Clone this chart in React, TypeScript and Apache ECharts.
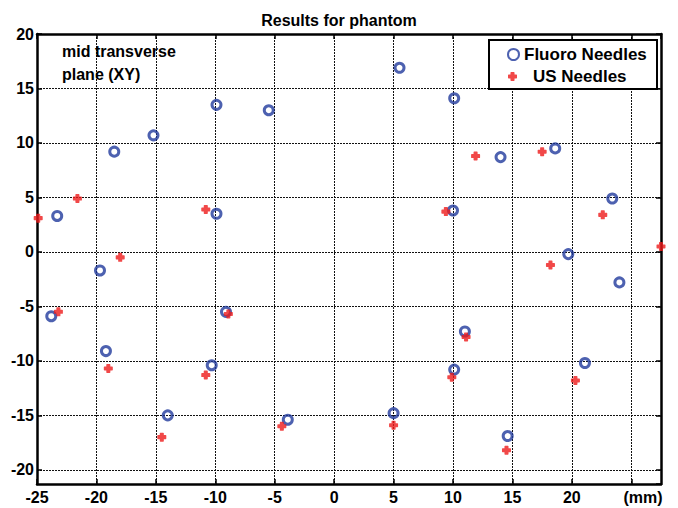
import React, { useEffect, useRef } from "react";
import * as echarts from "echarts";

const fluoroX = [-23.8, -23.3, -19.7, -19.2, -18.5, -15.2, -14.0, -9.9, -9.9, -10.3, -9.1, -5.5, -3.9, 5.5, 10.1, 10.0, 11.0, 10.1, 5.0, 14.0, 18.6, 19.7, 23.4, 24.0, 21.1, 14.6];
const fluoroY = [-5.9, 3.3, -1.7, -9.1, 9.2, 10.7, -15.0, 13.5, 3.5, -10.4, -5.5, 13.0, -15.4, 16.9, 14.1, 3.8, -7.3, -10.8, -14.8, 8.7, 9.5, -0.2, 4.9, -2.8, -10.2, -16.9];
const usX = [-24.9, -21.6, -18.0, -23.2, -19.0, -14.5, -10.8, -10.8, -8.9, -4.4, 11.9, 17.5, 9.4, 22.6, 27.5, 18.2, 11.1, 9.9, 20.3, 5.0, 14.5];
const usY = [3.1, 4.9, -0.5, -5.5, -10.7, -17.0, 3.9, -11.3, -5.7, -16.0, 8.8, 9.2, 3.7, 3.4, 0.5, -1.2, -7.8, -11.5, -11.8, -15.9, -18.2];

const xMin = -25;
const xMax = 27.5;
const xUnitTick = 25; // tick whose label is replaced by the unit
const xUnitLabel = "(mm)";
const yMin = -21.3;
const yMax = 20;

const FONT = "'Liberation Sans', Arial, sans-serif";
const BLUE = "#213a9c";
const RED = "#ee1a1a";
const BLOB = "path://M2.2,0.6Q2.2,0 2.8,0H5.2Q5.8,0 5.8,0.6V2.2H7.4Q8,2.2 8,2.8V5.2Q8,5.8 7.4,5.8H5.8V7.4Q5.8,8 5.2,8H2.8Q2.2,8 2.2,7.4V5.8H0.6Q0,5.8 0,5.2V2.8Q0,2.2 0.6,2.2H2.2Z";

export default function App() {
  const ref = useRef<HTMLDivElement>(null);
  useEffect(() => {
    if (!ref.current) return;
    const chart = echarts.init(ref.current, null, { renderer: "svg" });
    const axisLine = { show: true, onZero: false, lineStyle: { color: "#000", width: 2.5 } };
    const tick = { show: true, inside: true, length: 5, lineStyle: { color: "#000", width: 1.5 } };
    const split = { show: true, lineStyle: { color: "#111", width: 1, type: [2, 1] as any } };
    const label = { color: "#000", fontFamily: FONT, fontWeight: "bold" as const, fontSize: 16 };
    chart.setOption({
      animation: false,
      backgroundColor: "#fff",
      title: {
        text: "Results for phantom",
        left: "center",
        top: 7,
        textStyle: { fontFamily: FONT, fontWeight: "bold", fontSize: 16, color: "#000" },
      },
      grid: { left: 37, right: 17, top: 34, bottom: 24, containLabel: false },
      xAxis: [
        {
          type: "value",
          min: xMin,
          max: xMax,
          interval: 5,
          position: "bottom",
          axisLine,
          axisTick: tick,
          splitLine: split,
          axisLabel: {
            ...label,
            margin: 5,
            showMaxLabel: false,
            formatter: (v: number) => (v === xUnitTick ? "" : String(v)),
          },
        },
        {
          type: "value",
          min: xMin,
          max: xMax,
          interval: 5,
          position: "top",
          axisLine,
          axisTick: tick,
          splitLine: { show: false },
          axisLabel: { show: false },
        },
      ],
      yAxis: [
        {
          type: "value",
          min: yMin,
          max: yMax,
          splitNumber: 8,
          position: "left",
          axisLine,
          axisTick: tick,
          splitLine: split,
          axisLabel: { ...label, margin: 3, showMinLabel: false },
        },
        {
          type: "value",
          min: yMin,
          max: yMax,
          splitNumber: 8,
          position: "right",
          axisLine,
          axisTick: tick,
          splitLine: { show: false },
          axisLabel: { show: false },
        },
      ],
      legend: [
        {
          data: ["Fluoro Needles"],
          left: 507,
          top: 46,
          padding: 0,
          itemWidth: 11,
          itemHeight: 11,
          z: 10,
          textStyle: { fontFamily: FONT, fontWeight: "bold", fontSize: 17, color: "#000" },
        },
        {
          data: ["US Needles"],
          left: 508,
          top: 68,
          padding: 0,
          itemWidth: 9,
          itemHeight: 9,
          z: 10,
          textStyle: { fontFamily: FONT, fontWeight: "bold", fontSize: 17, color: "#000", padding: [0, 0, 0, 11] },
        },
      ],
      graphic: [
        {
          type: "rect",
          z: 5,
          shape: { x: 489, y: 40, width: 168, height: 49 },
          style: { fill: "#fff", stroke: "#000", lineWidth: 2 },
        },
        {
          type: "text",
          z: 5,
          x: 62,
          y: 40,
          style: {
            text: "mid transverse\nplane (XY)",
            font: `bold 16px ${FONT}`,
            fill: "#000",
            lineHeight: 23,
          },
        },
        {
          type: "text",
          z: 5,
          x: 643,
          y: 497,
          style: {
            text: xUnitLabel,
            font: `bold 16px ${FONT}`,
            fill: "#000",
            align: "center",
            verticalAlign: "middle",
          },
        },
      ],
      series: [
        {
          name: "Fluoro Needles",
          type: "scatter",
          symbol: "circle",
          symbolSize: 9,
          itemStyle: { color: "rgba(255,255,255,0)", borderColor: BLUE, borderWidth: 3 },
          data: fluoroX.map((x, i) => [x, fluoroY[i]]),
          z: 3,
        },
        {
          name: "US Needles",
          type: "scatter",
          symbol: BLOB,
          symbolSize: 9,
          itemStyle: { color: RED },
          data: usX.map((x, i) => [x, usY[i]]),
          z: 4,
        },
      ],
    });
    return () => chart.dispose();
  }, []);
  return <div ref={ref} style={{ width: 678, height: 508, position: "absolute", left: 0, top: 0 }} />;
}
